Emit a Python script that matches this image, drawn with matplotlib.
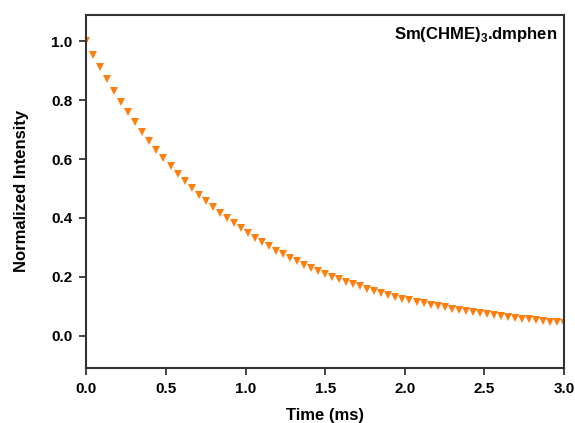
import matplotlib
matplotlib.use("Agg")
import matplotlib.pyplot as plt

plt.rcParams['font.family'] = ['Liberation Sans', 'DejaVu Sans']
plt.rcParams['font.weight'] = 'bold'
plt.rcParams['mathtext.fontset'] = 'custom'
plt.rcParams['mathtext.rm'] = 'Liberation Sans:bold'
plt.rcParams['mathtext.bf'] = 'Liberation Sans:bold'

# decay data
time_ms = [0.000, 0.044, 0.088, 0.132, 0.176, 0.221, 0.265, 0.309, 0.353, 0.397,
           0.441, 0.485, 0.529, 0.574, 0.618, 0.662, 0.706, 0.750, 0.794, 0.838,
           0.882, 0.926, 0.971, 1.015, 1.059, 1.103, 1.147, 1.191, 1.235, 1.279,
           1.324, 1.368, 1.412, 1.456, 1.500, 1.544, 1.588, 1.632, 1.676, 1.721,
           1.765, 1.809, 1.853, 1.897, 1.941, 1.985, 2.029, 2.074, 2.118, 2.162,
           2.206, 2.250, 2.294, 2.338, 2.382, 2.426, 2.471, 2.515, 2.559, 2.603,
           2.647, 2.691, 2.735, 2.779, 2.824, 2.868, 2.912, 2.956, 3.000]
intensity = [1.000, 0.955, 0.912, 0.871, 0.832, 0.795, 0.759, 0.725, 0.692, 0.661,
             0.632, 0.603, 0.576, 0.550, 0.526, 0.502, 0.479, 0.458, 0.437, 0.418,
             0.399, 0.381, 0.364, 0.348, 0.332, 0.317, 0.303, 0.289, 0.276, 0.264,
             0.252, 0.241, 0.230, 0.219, 0.210, 0.200, 0.191, 0.183, 0.174, 0.167,
             0.159, 0.152, 0.145, 0.139, 0.132, 0.126, 0.121, 0.115, 0.110, 0.105,
             0.101, 0.096, 0.092, 0.088, 0.084, 0.080, 0.076, 0.073, 0.070, 0.066,
             0.063, 0.061, 0.058, 0.055, 0.053, 0.050, 0.048, 0.046, 0.044]
x_ticks = [0.0, 0.5, 1.0, 1.5, 2.0, 2.5, 3.0]
y_ticks = [0.0, 0.2, 0.4, 0.6, 0.8, 1.0]
label = "Sm(CHME)$_{\\mathbf{3}}$.dmphen"

fig = plt.figure(figsize=(5.75, 4.23), dpi=100)
ax = fig.add_axes([0.150, 0.130, 0.831, 0.835])

ax.plot(time_ms, intensity, linestyle='none', marker='v', markersize=6,
        color='#FF7F0E', markeredgewidth=0)

ax.set_xlim(0, 3.0)
ax.set_ylim(-0.11, 1.09)
ax.set_xticks(x_ticks)
ax.set_yticks(y_ticks)
ax.set_xticklabels([f"{v:.1f}" for v in x_ticks])
ax.set_yticklabels([f"{v:.1f}" for v in y_ticks])
ax.tick_params(direction='out', length=5, width=1.3, labelsize=11, color='#333333', pad=5)
for s in ax.spines.values():
    s.set_linewidth(1.5)
    s.set_color('#333333')

ax.set_xlabel("Time (ms)", fontsize=12, fontweight='bold', labelpad=9)
ax.set_ylabel("Normalized Intensity", fontsize=12, fontweight='bold', labelpad=16)
ax.text(0.985, 0.945, label, transform=ax.transAxes, ha='right', va='center',
        fontsize=12, fontweight='bold')

fig.savefig("out.png", dpi=100)
